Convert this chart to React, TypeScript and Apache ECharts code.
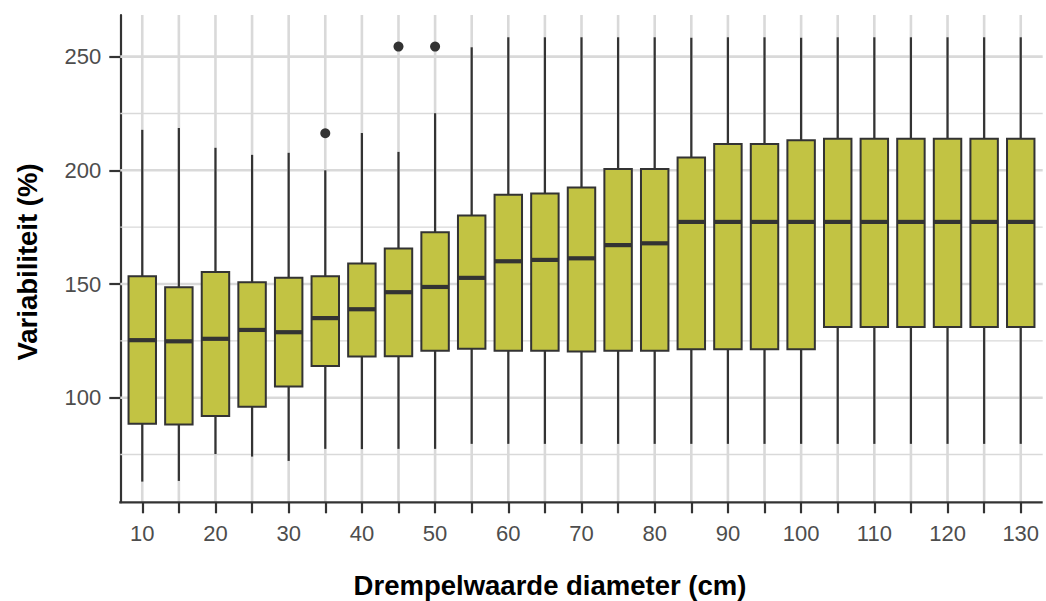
import React, { useEffect, useRef } from "react";
import * as echarts from "echarts";

const categories = ["10","15","20","25","30","35","40","45","50","55","60","65","70","75","80","85","90","95","100","105","110","115","120","125","130"];
const lowerWhisker = [63.1, 63.4, 75.2, 74.1, 72.2, 77.5, 77.4, 77.5, 77.5, 79.7, 79.7, 79.7, 79.7, 79.7, 79.7, 79.7, 79.7, 79.7, 79.7, 79.7, 79.7, 79.7, 79.7, 79.7, 79.7];
const q1 = [88.5, 88.2, 91.9, 96.0, 104.9, 113.9, 118.1, 118.2, 120.6, 121.5, 120.6, 120.7, 120.3, 120.6, 120.6, 121.3, 121.3, 121.3, 121.3, 131.1, 131.1, 131.1, 131.1, 131.1, 131.1];
const median = [125.3, 124.8, 125.9, 129.8, 128.8, 135.0, 138.9, 146.4, 148.7, 152.7, 160.0, 160.6, 161.3, 167.1, 167.9, 177.3, 177.3, 177.3, 177.3, 177.3, 177.3, 177.3, 177.3, 177.3, 177.3];
const q3 = [153.4, 148.6, 155.3, 150.8, 152.8, 153.4, 159.0, 165.6, 172.8, 180.1, 189.3, 189.8, 192.4, 200.6, 200.6, 205.6, 211.6, 211.6, 213.2, 213.9, 213.9, 213.9, 213.9, 213.9, 213.9];
const upperWhisker = [217.8, 218.6, 209.9, 206.8, 207.7, 200.0, 216.4, 208.1, 225.1, 254.1, 258.5, 258.5, 258.5, 258.5, 258.5, 258.3, 258.5, 258.5, 258.3, 258.5, 258.5, 258.5, 258.5, 258.5, 258.5];
const outlierCategory = [5, 7, 8];
const outlierValue = [216.3, 254.4, 254.4];
const yTickValues = [100, 150, 200, 250];
const yMinorGrid = [75, 125, 175, 225];

const INK = "#333333";
const FILL = "#C2C343";
const GRID = "#D9D9D9";
const FONT = "Liberation Sans, Arial, Helvetica, sans-serif";

export default function App() {
  const ref = useRef<HTMLDivElement>(null);

  useEffect(() => {
    if (!ref.current) return;
    const chart = echarts.init(ref.current, null, { renderer: "svg" });

    const panelL = 120.3;
    const panelR = 1042.7;
    const panelT = 15;
    const panelB = 502.3;
    const band = (panelR - panelL) / (categories.length + 0.2);
    const gridLeft = panelL + band * 0.1;
    const gridWidth = band * categories.length;

    const boxData = categories.map((_, i) => [i, lowerWhisker[i], q1[i], median[i], q3[i], upperWhisker[i]]);
    const vGridData = categories.map((_, i) => [i, 150]);
    const hGridData = [
      ...yMinorGrid.map((v) => [0, v, 0]),
      ...yTickValues.map((v) => [0, v, 1]),
    ];
    const outlierData = outlierCategory.map((c, i) => [c, outlierValue[i]]);

    const option: any = {
      animation: false,
      backgroundColor: "#ffffff",
      grid: { left: gridLeft, top: panelT, width: gridWidth, height: panelB - panelT, containLabel: false },
      xAxis: {
        type: "category",
        data: categories,
        boundaryGap: true,
        axisLine: { show: false },
        axisTick: { show: true, alignWithLabel: true, interval: 0, length: 11, lineStyle: { color: INK, width: 2.2 } },
        axisLabel: { interval: 1, color: "#4D4D4D", fontSize: 22, fontFamily: FONT, margin: 20 },
        splitLine: { show: false },
      },
      yAxis: {
        type: "value",
        min: 54,
        max: 268.3,
        offset: band * 0.1,
        axisLine: { show: true, lineStyle: { color: INK, width: 2.2 } },
        axisTick: { show: true, length: 11, customValues: yTickValues, lineStyle: { color: INK, width: 2.2 } },
        axisLabel: { customValues: yTickValues, color: "#4D4D4D", fontSize: 22, fontFamily: FONT, margin: 19 },
        splitLine: { show: false },
      },
      graphic: [
        {
          type: "line",
          z: 50,
          shape: { x1: panelL - 1.1, y1: panelB, x2: panelR, y2: panelB },
          style: { stroke: INK, lineWidth: 2.2 },
        },
        {
          type: "text",
          x: 550,
          y: 585,
          style: { text: "Drempelwaarde diameter (cm)", font: `bold 27.5px ${FONT}`, fill: "#000000", textAlign: "center", textVerticalAlign: "middle" },
        },
        {
          type: "text",
          x: 27.5,
          y: 262,
          rotation: Math.PI / 2,
          style: { text: "Variabiliteit (%)", font: `bold 27.5px ${FONT}`, fill: "#000000", textAlign: "center", textVerticalAlign: "middle" },
        },
      ],
      series: [
        {
          type: "custom",
          name: "hgrid",
          silent: true,
          z: 1,
          clip: false,
          data: hGridData,
          encode: { x: 0, y: 1 },
          renderItem: (params: any, api: any) => {
            const cs = params.coordSys;
            const y = api.coord([0, api.value(1)])[1];
            const major = api.value(2) === 1;
            return {
              type: "line",
              shape: { x1: cs.x - band * 0.1, y1: y, x2: cs.x + cs.width + band * 0.1, y2: y },
              style: { stroke: GRID, lineWidth: major ? 2.6 : 1.4 },
            };
          },
        },
        {
          type: "custom",
          name: "vgrid",
          silent: true,
          z: 1,
          clip: false,
          data: vGridData,
          encode: { x: 0, y: 1 },
          renderItem: (params: any, api: any) => {
            const cs = params.coordSys;
            const x = api.coord([api.value(0), 150])[0];
            return {
              type: "line",
              shape: { x1: x, y1: cs.y, x2: x, y2: cs.y + cs.height },
              style: { stroke: GRID, lineWidth: 2.6 },
            };
          },
        },
        {
          type: "custom",
          name: "boxes",
          silent: true,
          z: 3,
          clip: false,
          data: boxData,
          encode: { x: 0, y: [1, 2, 3, 4, 5] },
          renderItem: (params: any, api: any) => {
            const idx = api.value(0);
            const yc = (k: number) => api.coord([idx, api.value(k)])[1];
            const xc = api.coord([idx, 150])[0];
            const bw = api.size([1, 0])[0] * 0.75;
            const lo = yc(1);
            const a = yc(2);
            const m = yc(3);
            const b = yc(4);
            const hi = yc(5);
            return {
              type: "group",
              children: [
                { type: "line", shape: { x1: xc, y1: hi, x2: xc, y2: b }, style: { stroke: INK, lineWidth: 2.2 } },
                { type: "line", shape: { x1: xc, y1: a, x2: xc, y2: lo }, style: { stroke: INK, lineWidth: 2.2 } },
                { type: "rect", shape: { x: xc - bw / 2, y: b, width: bw, height: a - b }, style: { fill: FILL, stroke: INK, lineWidth: 2 } },
                { type: "line", shape: { x1: xc - bw / 2, y1: m, x2: xc + bw / 2, y2: m }, style: { stroke: INK, lineWidth: 4.2 } },
              ],
            };
          },
        },
        {
          type: "scatter",
          name: "outliers",
          silent: true,
          z: 4,
          symbol: "circle",
          symbolSize: 10,
          itemStyle: { color: INK, opacity: 1 },
          data: outlierData,
        },
      ],
    };

    chart.setOption(option);
    return () => chart.dispose();
  }, []);

  return (
    <div
      ref={ref}
      style={{ position: "fixed", left: 0, top: 0, width: 1046, height: 601, background: "#ffffff" }}
    />
  );
}
